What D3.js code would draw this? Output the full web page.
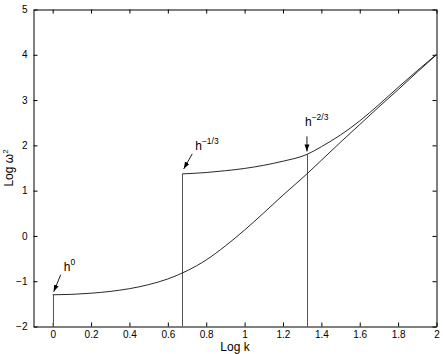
<!DOCTYPE html>
<html><head><meta charset="utf-8">
<script src="https://cdn.jsdelivr.net/npm/d3@7"></script>
<style>body{margin:0;background:#fff}svg{display:block}text{font-family:"Liberation Sans",Arial,sans-serif}</style>
</head><body>
<svg id="c" width="443" height="354"></svg>
<script>
// Data
const lowerX = [0, 0.1, 0.2, 0.3, 0.4, 0.5, 0.6, 0.7, 0.8, 0.9, 1.0, 1.1, 1.2, 1.325, 1.4, 1.5, 1.6, 1.7, 1.8, 1.9, 2.0];
const lowerY = [-1.30, -1.29, -1.265, -1.225, -1.165, -1.075, -0.95, -0.77, -0.53, -0.22, 0.13, 0.51, 0.90, 1.37, 1.67, 2.07, 2.46, 2.85, 3.23, 3.62, 4.0];
const upperX = [0.675, 0.8, 0.9, 1.0, 1.1, 1.2, 1.325, 1.4, 1.5, 1.6, 1.7, 1.8, 1.9, 2.0];
const upperY = [1.37, 1.40, 1.44, 1.49, 1.56, 1.65, 1.80, 1.97, 2.23, 2.54, 2.90, 3.28, 3.65, 4.01];
const markX = [0, 0.675, 1.325];
const markY = [-1.30, 1.37, 1.80];
const markLabel = ["0", "\u22121/3", "\u22122/3"];
const xTicks = [0, 0.2, 0.4, 0.6, 0.8, 1, 1.2, 1.4, 1.6, 1.8, 2];
const yTicks = [-2, -1, 0, 1, 2, 3, 4, 5];

const svg = d3.select("#c");
const L = 33.5, R = 436.5, T = 9.5, B = 326.5;
const x = d3.scaleLinear().domain([-0.1, 2]).range([L, R]);
const y = d3.scaleLinear().domain([-2, 5]).range([B, T]);

svg.append("defs").append("marker").attr("id","ah").attr("viewBox","0 0 10 10")
  .attr("refX",10).attr("refY",5).attr("markerWidth",7).attr("markerHeight",7)
  .attr("markerUnits","userSpaceOnUse").attr("orient","auto")
  .append("path").attr("d","M0,1.5L10,5L0,8.5Z").attr("fill","#000");

// axes box with inward ticks
const fmt = d => d < 0 ? "\u2212" + Math.abs(d) : String(d);
const ax = svg.append("g").attr("transform",`translate(0,${B})`)
  .call(d3.axisBottom(x).tickValues(xTicks).tickSizeInner(-4).tickSizeOuter(0).tickPadding(4).tickFormat(fmt));
const axT = svg.append("g").attr("transform",`translate(0,${T})`)
  .call(d3.axisTop(x).tickValues(xTicks).tickSizeInner(-4).tickSizeOuter(0).tickFormat(""));
const ay = svg.append("g").attr("transform",`translate(${L},0)`)
  .call(d3.axisLeft(y).tickValues(yTicks).tickSizeInner(-4).tickSizeOuter(0).tickPadding(6).tickFormat(fmt));
const ayR = svg.append("g").attr("transform",`translate(${R},0)`)
  .call(d3.axisRight(y).tickValues(yTicks).tickSizeInner(-4).tickSizeOuter(0).tickFormat(""));
[ax, axT, ay, ayR].forEach(g => {
  g.select(".domain").attr("stroke","#000");
  g.selectAll(".tick line").attr("stroke","#000");
  g.selectAll("text").attr("font-size",10).attr("fill","#000").attr("font-family","Liberation Sans, Arial, sans-serif");
});

// vertical marker lines
svg.selectAll("line.v").data(markX).enter().append("line")
  .attr("x1", d => Math.round(x(d))+0.5).attr("x2", d => Math.round(x(d))+0.5)
  .attr("y1", B).attr("y2", (d,i) => y(markY[i]))
  .attr("stroke", "#555").attr("stroke-width", 1);

// curves
const line = d3.line().x(d => x(d[0])).y(d => y(d[1])).curve(d3.curveMonotoneX);
svg.append("path").datum(lowerX.map((v,i)=>[v, lowerY[i]])).attr("d", line)
  .attr("fill","none").attr("stroke","#111").attr("stroke-width",0.9);
svg.append("path").datum(upperX.map((v,i)=>[v, upperY[i]])).attr("d", line)
  .attr("fill","none").attr("stroke","#111").attr("stroke-width",0.9);

// annotations: arrows and labels (offsets in pixels relative to marker point)
const ann = [
  {dx1: 8, dy1: -20, dx2: 1, dy2: -3, lx: 11, ly: -24},
  {dx1: 10, dy1: -20, dx2: 1.5, dy2: -5, lx: 13, ly: -24},
  {dx1: 0, dy1: -18, dx2: 0, dy2: -3, lx: -2, ly: -28}
];
markX.forEach((d,i) => {
  const px = x(d), py = y(markY[i]), a = ann[i];
  svg.append("line").attr("x1", px+a.dx1).attr("y1", py+a.dy1).attr("x2", px+a.dx2).attr("y2", py+a.dy2)
    .attr("stroke","#000").attr("stroke-width",0.9).attr("marker-end","url(#ah)");
  const t = svg.append("text").attr("x", px+a.lx).attr("y", py+a.ly).attr("font-size",12).attr("fill","#000");
  t.append("tspan").text("h");
  t.append("tspan").attr("dy",-6).attr("font-size",8.5).text(markLabel[i]);
});

// axis titles
svg.append("text").attr("x",(L+R)/2).attr("y",351).attr("text-anchor","middle").attr("font-size",12).text("Log k");
const yl = svg.append("text").attr("transform",`translate(13,${(T+B)/2}) rotate(-90)`).attr("text-anchor","middle").attr("font-size",12);
yl.append("tspan").text("Log \u03c9");
yl.append("tspan").attr("dy",-5).attr("font-size",8).text("2");
</script>
</body></html>
